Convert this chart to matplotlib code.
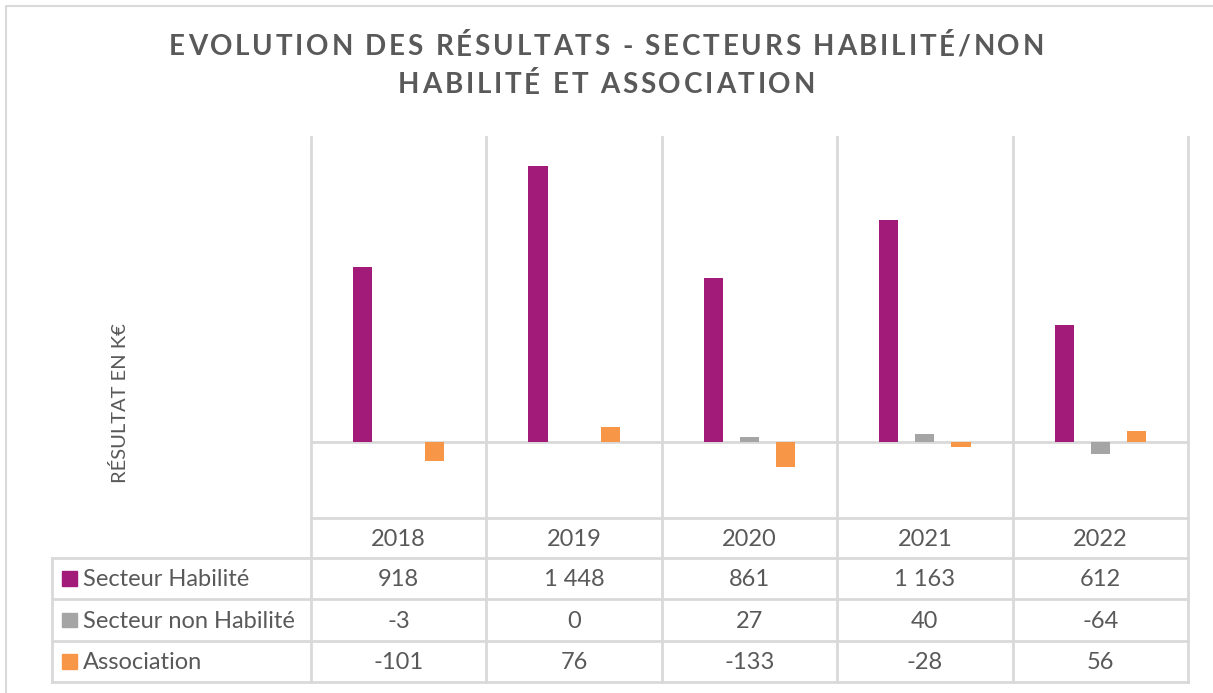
import matplotlib.pyplot as plt
import numpy as np

years = ['2018', '2019', '2020', '2021', '2022']
series = ['Secteur Habilité', 'Secteur non Habilité', 'Association']
habilite = [918, 1448, 861, 1163, 612]
non_habilite = [-3, 0, 27, 40, -64]
association = [-101, 76, -133, -28, 56]
colors = ['#A21B78', '#A5A5A5', '#F79646']

title_lines = ['EVOLUTION DES RÉSULTATS - SECTEURS HABILITÉ/NON',
               'HABILITÉ ET ASSOCIATION']


def fmt(v):
    return f'{v:,}'.replace(',', ' ')


W, H = 1213, 693
fig = plt.figure(figsize=(W / 100, H / 100), dpi=100)
txt = '#595959'
grid = '#D9D9D9'

# overlay in pixel coordinates for frame, table and title
ov = fig.add_axes([0, 0, 1, 1])
ov.set_xlim(0, W)
ov.set_ylim(H, 0)
ov.axis('off')

# plot area
x0, x1, ytop, ybot = 311, 1188, 137, 518
ax = fig.add_axes([x0 / W, 1 - ybot / H, (x1 - x0) / W, (ybot - ytop) / H])
ax.set_xlim(-0.5, len(years) - 0.5)
ax.set_ylim(-400, 1600)
ax.axis('off')

x = np.arange(len(years))
w = 0.109
off = 0.206
ax.axhline(0, color=grid, lw=2, zorder=1)
for i, vals in enumerate([habilite, non_habilite, association]):
    ax.bar(x + (i - 1) * off, vals, w, color=colors[i], zorder=2)

# outer frame
ov.plot([6, 6, W + 5], [H + 5, 6, 6], color=grid, lw=1.5)

# table grid
col_w = (x1 - x0) / len(years)
rows = [518, 558, 599, 641, 682]
tl = 52
for k in range(len(years) + 1):
    xx = x0 + k * col_w
    ov.plot([xx, xx], [ytop, rows[-1]], color=grid, lw=2)
ov.plot([tl, tl], [rows[1], rows[-1]], color=grid, lw=2)
ov.plot([x0, x1], [rows[0], rows[0]], color=grid, lw=2)
for r in rows[1:]:
    ov.plot([tl, x1], [r, r], color=grid, lw=2)

fs = 17
for k, yr in enumerate(years):
    ov.text(x0 + (k + 0.5) * col_w, (rows[0] + rows[1]) / 2 + 1, yr,
            ha='center', va='center', fontsize=fs, color=txt, family='Lato')
for i, vals in enumerate([habilite, non_habilite, association]):
    yc = (rows[i + 1] + rows[i + 2]) / 2
    ov.add_patch(plt.Rectangle((62, yc - 7.5), 14.5, 14.5, color=colors[i]))
    ov.text(83, yc + 1, series[i], ha='left', va='center', fontsize=fs,
            color=txt, family='Lato')
    for k, v in enumerate(vals):
        ov.text(x0 + (k + 0.5) * col_w, yc + 1, fmt(v), ha='center',
                va='center', fontsize=fs, color=txt, family='Lato')

ov.text(120, 403, 'RÉSULTAT EN K€', rotation=90, ha='center', va='center',
        fontsize=14.5, color=txt, family='Lato')

# title with letter spacing
renderer = fig.canvas.get_renderer()
tfs = 20
spacing = 2.8
for line, yc in zip(title_lines, [47, 85]):
    widths = []
    for ch in line:
        if ch == ' ':
            t = ov.text(0, 0, 'a a', fontsize=tfs, weight='bold', family='Lato')
            t2 = ov.text(0, 0, 'aa', fontsize=tfs, weight='bold', family='Lato')
            wd = t.get_window_extent(renderer).width - t2.get_window_extent(renderer).width
            t.remove()
            t2.remove()
        else:
            t = ov.text(0, 0, ch, fontsize=tfs, weight='bold', family='Lato')
            wd = t.get_window_extent(renderer).width
            t.remove()
        widths.append(wd)
    total = sum(widths) + spacing * (len(line) - 1)
    xs = W / 2 - total / 2
    for ch, wd in zip(line, widths):
        ov.text(xs, yc, ch, ha='left', va='center', fontsize=tfs,
                weight='bold', family='Lato', color=txt)
        xs += wd + spacing

fig.savefig('out.png', dpi=100)
